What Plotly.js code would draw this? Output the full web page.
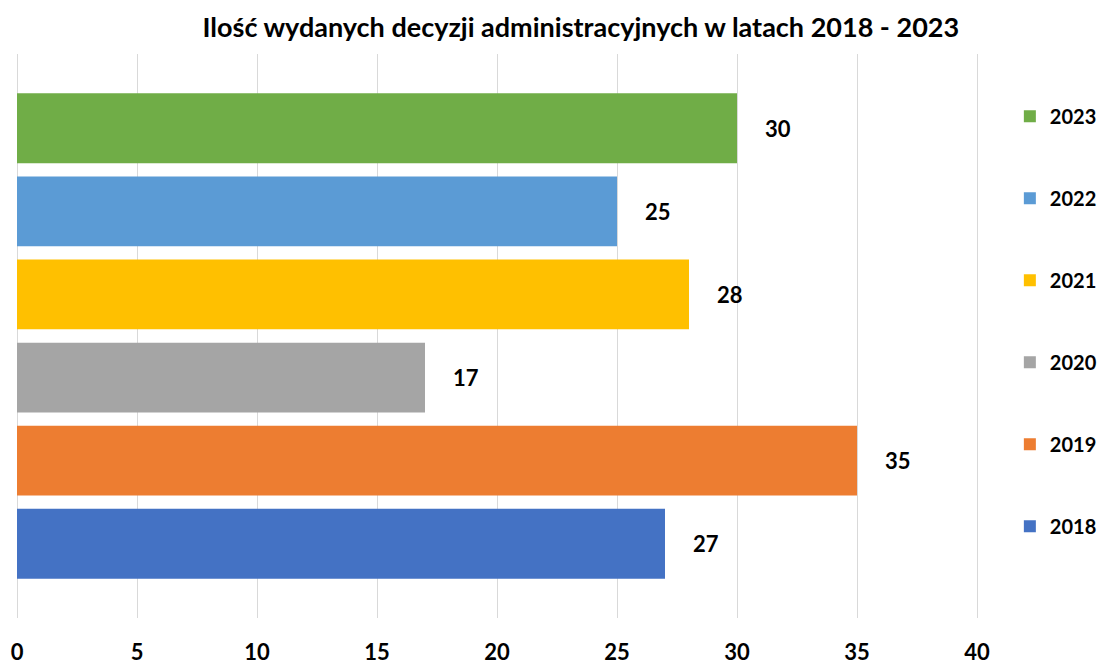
<!DOCTYPE html>
<html>
<head>
<meta charset="utf-8">
<script src="https://cdn.plot.ly/plotly-3.0.1.min.js"></script>
<style>html,body{margin:0;padding:0;background:#fff;}#chart{width:1102px;height:664px;}</style>
</head>
<body>
<div id="chart"></div>
<script>
const years = ['2018', '2019', '2020', '2021', '2022', '2023'];
const values = [27, 35, 17, 28, 25, 30];
const colors = ['#4472C4', '#ED7D31', '#A5A5A5', '#FFC000', '#5B9BD5', '#70AD47'];
const xTicks = [0, 5, 10, 15, 20, 25, 30, 35, 40];
const titleText = 'Ilość wydanych decyzji administracyjnych w latach 2018 - 2023';

const FONT = 'Lato, "Open Sans", sans-serif';

// traces are added newest first so the legend lists 2023 at the top
const order = years.map((_, i) => i).reverse();
const traces = order.map(i => ({
  type: 'bar',
  orientation: 'h',
  name: years[i],
  x: [values[i]],
  y: [years[i]],
  width: 0.84,
  legendgroup: years[i],
  marker: {color: colors[i], line: {width: 0}},
  hoverinfo: 'x+name'
}));

// category axis: annotation y given as category index
const annotations = years.map((yr, i) => ({
  x: values[i], y: i, xref: 'x', yref: 'y',
  text: '<b>' + values[i] + '</b>',
  showarrow: false, xanchor: 'left', yanchor: 'middle', xshift: 26,
  font: {family: FONT, size: 22, color: '#000'}
}));

const layout = {
  width: 1102, height: 664,
  paper_bgcolor: '#fff', plot_bgcolor: '#fff',
  margin: {l: 17, r: 101, t: 54, b: 46, autoexpand: false},
  title: {
    text: '<b>' + titleText + '</b>',
    font: {family: FONT, size: 27, color: '#000'},
    x: 0.573, xref: 'paper', xanchor: 'center',
    y: 0.958, yref: 'container', yanchor: 'middle'
  },
  barmode: 'overlay',
  showlegend: true,
  legend: {
    x: 1.009, xanchor: 'left', y: 0.924, yanchor: 'top',
    traceorder: 'grouped', tracegroupgap: 53,
    font: {family: FONT, size: 20, color: '#000', weight: 'bold'},
    bgcolor: 'rgba(0,0,0,0)', borderwidth: 0
  },
  xaxis: {
    range: [0, 41], tickvals: xTicks, ticktext: xTicks.map(v => '<b>' + v + '</b>'),
    showgrid: true, gridcolor: '#D9D9D9', gridwidth: 1,
    zeroline: true, zerolinecolor: '#D9D9D9', zerolinewidth: 1,
    showline: false, ticks: '', ticklabelstandoff: 19,
    tickfont: {family: FONT, size: 22, color: '#000'}, fixedrange: true
  },
  yaxis: {
    type: 'category', categoryorder: 'array', categoryarray: years,
    range: [-0.893, 5.893], showticklabels: false, showgrid: false,
    zeroline: false, showline: false, ticks: '', fixedrange: true
  },
  annotations: annotations,
  font: {family: FONT}
};

Plotly.newPlot('chart', traces, layout, {displayModeBar: false, staticPlot: true});
</script>
</body>
</html>
